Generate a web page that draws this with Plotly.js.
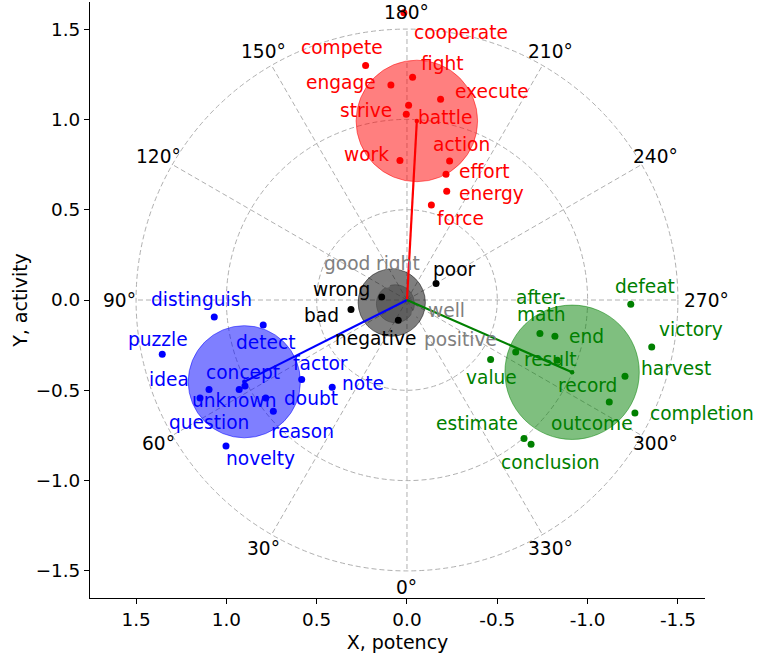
<!DOCTYPE html>
<html>
<head>
<meta charset="utf-8">
<script src="https://cdn.plot.ly/plotly-3.0.1.min.js"></script>
<style>html,body{margin:0;padding:0;background:#fff;}#chart{width:758px;height:659px;}</style>
</head>
<body>
<div id="chart"></div>
<script>
// ---------- data ----------
const redWords = ["cooperate","compete","engage","fight","execute","strive","battle","work","action","effort","energy","force"];
const redX = [0.017, 0.229, 0.089, -0.031, -0.186, -0.009, 0.004, 0.039, -0.236, -0.216, -0.220, -0.135];
const redY = [1.590, 1.299, 1.190, 1.234, 1.111, 1.079, 1.029, 0.773, 0.769, 0.696, 0.602, 0.526];

const blueWords = ["distinguish","detect","puzzle","factor","note","idea","concept","unknown","question","doubt","reason","novelty"];
const blueX = [1.067, 0.796, 1.355, 0.583, 0.414, 1.096, 0.929, 0.897, 1.146, 0.782, 0.740, 1.002];
const blueY = [-0.094, -0.138, -0.300, -0.440, -0.483, -0.496, -0.496, -0.476, -0.542, -0.542, -0.616, -0.808];

const greenWords = ["defeat","after-\nmath","end","victory","result","value","record","harvest","outcome","completion","estimate","conclusion"];
const greenX = [-1.239, -0.736, -0.819, -1.355, -0.602, -0.463, -0.832, -1.207, -1.120, -1.262, -0.648, -0.687];
const greenY = [-0.024, -0.186, -0.201, -0.260, -0.288, -0.330, -0.334, -0.422, -0.565, -0.625, -0.767, -0.799];

const blackWords = ["wrong","bad","negative","poor"];
const blackX = [0.140, 0.310, 0.048, -0.161];
const blackY = [0.017, -0.053, -0.112, 0.091];

const grayWords = ["good","right","well","positive"];
const grayX = [0.112, 0.140, -0.044, 0.048];
const grayY = [0.087, 0.017, -0.075, -0.112];

const xTickVals = [1.5, 1.0, 0.5, 0.0, -0.5, -1.0, -1.5];
const xTickText = ["1.5","1.0","0.5","0.0","-0.5","-1.0","-1.5"];
const yTickVals = [-1.5, -1.0, -0.5, 0.0, 0.5, 1.0, 1.5];
const yTickText = ["\u22121.5","\u22121.0","\u22120.5","0.0","0.5","1.0","1.5"];
const angleTicks = [0,30,60,90,120,150,180,210,240,270,300,330];
const ringRadii = [0.5, 1.0, 1.5];

// ---------- label placement (pixel offsets from the point) ----------
const labelOffsets = {
  cooperate:[57.5,-19.7], compete:[-23.7,18], engage:[-50,2.7], fight:[30.3,13.7], execute:[51,8.3],
  strive:[-42.7,-5.3], battle:[38.7,-3], work:[-33,6], action:[12.3,16.7], effort:[38,3.3],
  energy:[45,-2.5], force:[28.7,-13.3],
  distinguish:[-12.3,17.7], detect:[3,-17.8], puzzle:[-4.3,15], factor:[19,16.3], note:[30.5,3.5],
  idea:[-40.3,9.8], concept:[3.7,17.3], unknown:[-10,-14.3], question:[9,-25], doubt:[44.8,-0.3],
  reason:[29,-19.8], novelty:[34.3,-13],
  defeat:[13.8,18.3], "after-\nmath":[1.5,27.3], end:[32,-0.3], victory:[39.3,17.7], result:[35,-7.3],
  value:[0.6,-17.4], record:[30.5,-25.3], harvest:[50.8,7.3], outcome:[-17.6,-21.1],
  completion:[66.7,-1.1], estimate:[-47.3,15.5], conclusion:[19,-18],
  wrong:[-40,7.4], bad:[-29.7,-5.7], negative:[-22.5,-18], poor:[18.2,14.3],
  good:[-40,20.3], right:[16,33.4], well:[31.7,3.3], positive:[62.5,-19]
};

const FONT = "DejaVu Sans";
const LABEL_SIZE = 18.6;
const groups = [
  {words: grayWords, x: grayX, y: grayY, color: "#808080", fill: "rgba(128,128,128,0.5)", line:false},
  {words: blackWords, x: blackX, y: blackY, color: "#000000", fill: "rgba(0,0,0,0.5)", line:false},
  {words: redWords, x: redX, y: redY, color: "#ff0000", fill: "rgba(255,0,0,0.5)", line:true},
  {words: blueWords, x: blueX, y: blueY, color: "#0000ff", fill: "rgba(0,0,255,0.5)", line:true},
  {words: greenWords, x: greenX, y: greenY, color: "#008000", fill: "rgba(0,128,0,0.5)", line:true}
];

const shapes = [];
const annotations = [];
const traces = [];

// polar grid
const gridLine = {color: "#b0b0b0", width: 1, dash: "5px,3px"};
ringRadii.forEach(r => shapes.push({type:"circle", xref:"x", yref:"y", x0:-r, x1:r, y0:-r, y1:r, line:gridLine, layer:"below"}));
angleTicks.forEach(a => {
  const t = a * Math.PI / 180;
  const R = ringRadii[ringRadii.length - 1];
  shapes.push({type:"line", xref:"x", yref:"y", x0:0, y0:0, x1:R*Math.sin(t), y1:-R*Math.cos(t), line:gridLine, layer:"below"});
  const rl = 1.59;
  annotations.push({x: rl*Math.sin(t), y: -rl*Math.cos(t), xref:"x", yref:"y", text: a + "°", showarrow:false,
    xanchor:"center", yanchor:"middle", xshift: a === 270 ? 12 : 0, font:{family:FONT, size:LABEL_SIZE, color:"#000"}});
});

// group circles (centre = mean, radius = rms distance), centre lines, points, labels
groups.forEach(g => {
  const n = g.x.length;
  const mx = g.x.reduce((s,v)=>s+v,0)/n;
  const my = g.y.reduce((s,v)=>s+v,0)/n;
  const rad = Math.sqrt(g.x.reduce((s,v,i)=>s+(v-mx)**2+(g.y[i]-my)**2,0)/n);
  shapes.push({type:"circle", xref:"x", yref:"y", x0:mx-rad, x1:mx+rad, y0:my-rad, y1:my+rad,
    fillcolor:g.fill, line:{color:g.fill, width:1}, layer:"below"});
  g.mx = mx; g.my = my;
});
groups.forEach(g => {
  if (g.line) {
    traces.push({type:"scatter", mode:"lines", x:[0, g.mx], y:[0, g.my],
      line:{color:g.color, width:2.2}, hoverinfo:"skip", showlegend:false});
    traces.push({type:"scatter", mode:"markers", x:[g.mx], y:[g.my],
      marker:{size:4.5, color:g.color, line:{width:0}}, hoverinfo:"skip", showlegend:false});
  }
});
groups.forEach(g => {
  traces.push({type:"scatter", mode:"markers", x:g.x, y:g.y, text:g.words,
    marker:{size:7, color:g.color, line:{width:0}}, hoverinfo:"text", showlegend:false});
  g.words.forEach((w,i) => {
    const off = labelOffsets[w] || [0,0];
    const lines = w.split("\n");
    lines.forEach((ln, k) => {
      const dy = off[1] + ((lines.length-1)/2 - k) * 17;
      annotations.push({x:g.x[i], y:g.y[i], xref:"x", yref:"y", text: ln, showarrow:false,
        xanchor:"center", yanchor:"middle", xshift: off[0], yshift: dy,
        font:{family:FONT, size:LABEL_SIZE, color:g.color}});
    });
  });
});

const layout = {
  width: 758, height: 659,
  margin: {l:90, r:53, t:2, b:61, autoexpand:false},
  paper_bgcolor: "#fff", plot_bgcolor: "#fff",
  showlegend: false,
  font: {family: FONT, size: 18, color: "#000"},
  xaxis: {range:[1.755, -1.65], autorange:false, showgrid:false, zeroline:false,
    showline:true, linecolor:"#000", linewidth:1, ticks:"outside", ticklen:5, tickwidth:1, tickcolor:"#000",
    tickmode:"array", tickvals:xTickVals, ticktext:xTickText, tickfont:{family:FONT, size:18.4, color:"#000"},
    title:{text:"X, potency", font:{family:FONT, size:19, color:"#000"}, standoff:6}, automargin:false},
  yaxis: {range:[-1.65, 1.65], autorange:false, showgrid:false, zeroline:false,
    showline:true, linecolor:"#000", linewidth:1, ticks:"outside", ticklen:5, tickwidth:1, tickcolor:"#000",
    tickmode:"array", tickvals:yTickVals, ticktext:yTickText, tickfont:{family:FONT, size:18.4, color:"#000"},
    title:{text:"Y, activity", font:{family:FONT, size:19, color:"#000"}, standoff:2}, automargin:false},
  shapes: shapes,
  annotations: annotations
};

Plotly.newPlot("chart", traces, layout, {displayModeBar:false, staticPlot:true});
</script>
</body>
</html>
